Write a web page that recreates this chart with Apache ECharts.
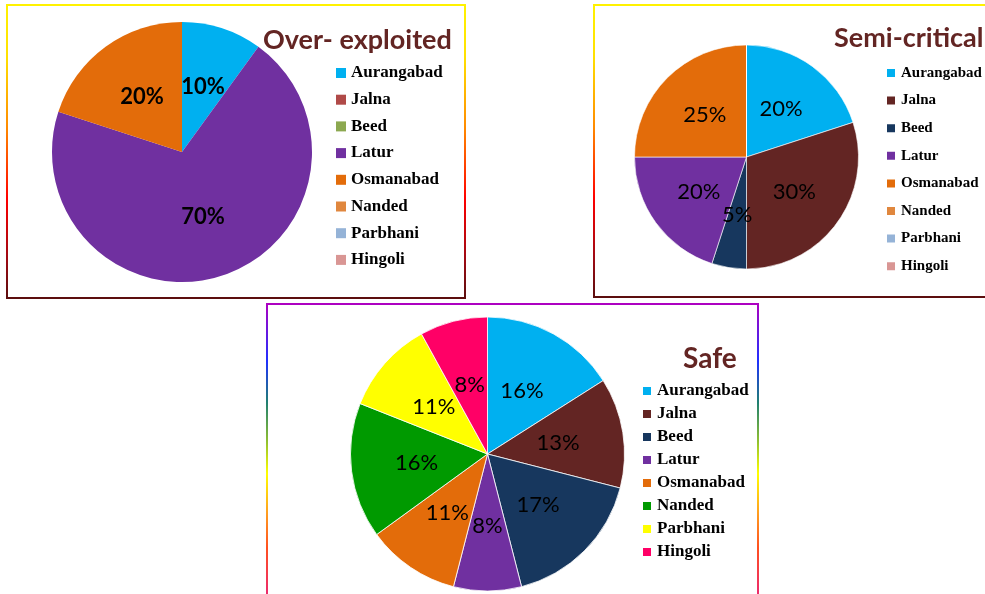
<!DOCTYPE html>
<html>
<head>
<meta charset="utf-8">
<script src="https://cdn.jsdelivr.net/npm/echarts@6/dist/echarts.min.js"></script>
<style>
  html, body { margin: 0; padding: 0; background: #fff; }
  body { width: 985px; height: 594px; position: relative; overflow: hidden; }
  .box { position: absolute; }
  #over { left: 6px; top: 4px; width: 461px; height: 296px; }
  #semi { left: 593px; top: 4px; width: 400px; height: 294px; }
  #safe { left: 266px; top: 303px; width: 494px; height: 300px; }
</style>
</head>
<body>
<div id="over" class="box"></div>
<div id="semi" class="box"></div>
<div id="safe" class="box"></div>
<script>
var districts = ['Aurangabad', 'Jalna', 'Beed', 'Latur', 'Osmanabad', 'Nanded', 'Parbhani', 'Hingoli'];

// percentage share of each district per category
var overExploited = [10, 0, 0, 70, 20, 0, 0, 0];
var semiCritical = [20, 30, 5, 20, 25, 0, 0, 0];
var safe = [16, 13, 17, 8, 11, 16, 11, 8];

var overColors = ['#00B0F0', '#B04A48', '#8CA850', '#7030A0', '#E36C0A', '#E0873E', '#95B3D7', '#D99694'];
var semiColors = ['#00B0F0', '#632523', '#17375E', '#7030A0', '#E36C0A', '#E0873E', '#95B3D7', '#D99694'];
var safeColors = ['#00B0F0', '#632523', '#17375E', '#7030A0', '#E36C0A', '#009A00', '#FFFF00', '#FF0066'];

var warmFrame = [
  {offset: 0, color: '#FFF200'},
  {offset: 0.18, color: '#FFE000'},
  {offset: 0.42, color: '#FF8A00'},
  {offset: 0.66, color: '#FF0000'},
  {offset: 0.86, color: '#A00A14'},
  {offset: 1, color: '#5A0E0E'}
];
var rainbowFrame = [
  {offset: 0, color: '#B000C0'},
  {offset: 0.18, color: '#2030FF'},
  {offset: 0.31, color: '#208070'},
  {offset: 0.43, color: '#90C030'},
  {offset: 0.53, color: '#FFFF00'},
  {offset: 0.65, color: '#FFA020'},
  {offset: 0.76, color: '#FF5020'},
  {offset: 0.88, color: '#F03060'},
  {offset: 1, color: '#D020A0'}
];

function makePie(id, cfg) {
  var chart = echarts.init(document.getElementById(id));
  var data = districts.map(function (d, i) {
    return {name: d, value: cfg.values[i], itemStyle: {color: cfg.colors[i]}};
  });
  chart.setOption({
    animation: false,
    title: {
      text: cfg.title,
      left: cfg.titlePos[0],
      top: cfg.titlePos[1],
      padding: 0,
      textStyle: {fontFamily: 'Lato', fontWeight: 'bold', fontSize: cfg.titleSize, color: '#632523'}
    },
    legend: {
      orient: 'vertical',
      left: cfg.legendPos[0],
      top: cfg.legendPos[1],
      padding: 0,
      icon: 'rect',
      itemWidth: 10,
      itemHeight: 10,
      itemGap: cfg.legendGap,
      selectedMode: false,
      data: districts,
      textStyle: {
        fontFamily: 'Liberation Serif', fontWeight: 'bold',
        fontSize: cfg.legendSize, lineHeight: cfg.legendSize + 1, color: '#000'
      }
    },
    graphic: [{
      type: 'rect',
      silent: true,
      shape: {x: 1, y: 1, width: cfg.frame[0], height: cfg.frame[1]},
      style: {fill: 'transparent', lineWidth: 2,
        stroke: new echarts.graphic.LinearGradient(0, 0, 0, 1, cfg.frameStops)}
    }],
    series: [{
      type: 'pie',
      center: cfg.center,
      radius: cfg.radius,
      startAngle: 90,
      clockwise: true,
      avoidLabelOverlap: false,
      itemStyle: {borderColor: '#fff', borderWidth: cfg.border},
      label: {
        show: true,
        position: 'inside',
        fontFamily: 'Lato',
        fontSize: 22,
        fontWeight: cfg.labelWeight,
        color: '#000',
        formatter: function (p) { return p.value ? p.value + '%' : ''; }
      },
      labelLine: {show: false},
      emphasis: {disabled: true},
      data: data
    }]
  });
}

makePie('over', {
  title: 'Over- exploited', titlePos: [257, 23], titleSize: 27,
  values: overExploited, colors: overColors,
  legendPos: [330, 60], legendGap: 8.7, legendSize: 17,
  center: [176, 148], radius: 130, border: 0, labelWeight: 'bold',
  frame: [458, 293], frameStops: warmFrame
});

makePie('semi', {
  title: 'Semi-critical', titlePos: [241, 21], titleSize: 27,
  values: semiCritical, colors: semiColors,
  legendPos: [292, 61], legendGap: 11.6, legendSize: 15,
  center: [153.5, 153], radius: 112, border: 0.6, labelWeight: 'normal',
  frame: [440, 292], frameStops: warmFrame
});

makePie('safe', {
  title: 'Safe', titlePos: [417, 42], titleSize: 28,
  values: safe, colors: safeColors,
  legendPos: [375, 79], legendGap: 5, legendSize: 17,
  center: [221.5, 151], radius: 137, border: 0.8, labelWeight: 'normal',
  frame: [491, 320], frameStops: rainbowFrame
});
</script>
</body>
</html>
